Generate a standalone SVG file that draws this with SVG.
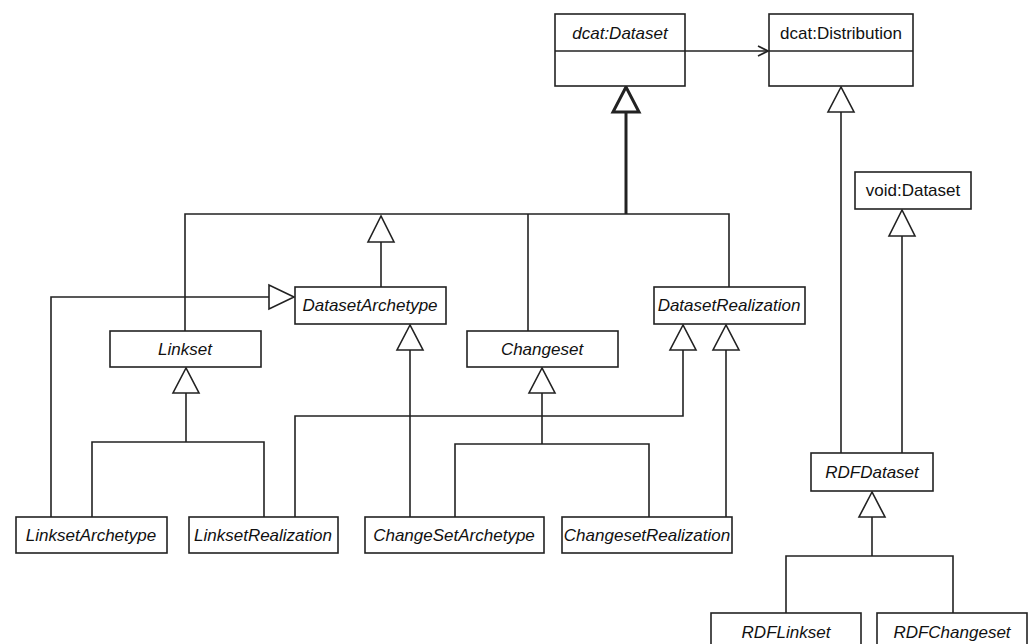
<svg xmlns="http://www.w3.org/2000/svg" width="1032" height="644" viewBox="0 0 1032 644">
  <style>
    .box { fill: #ffffff; stroke: #222222; stroke-width: 1.6; }
    .lbl { font-family: "Liberation Sans", Arial, sans-serif; font-size: 17px; fill: #111111; text-anchor: middle; }
    .it { font-style: italic; }
    .ln { fill: none; stroke: #222222; stroke-width: 1.6; }
    .thick { fill: none; stroke: #222222; stroke-width: 3; }
    .tri { fill: #ffffff; stroke: #222222; stroke-width: 1.6; stroke-linejoin: miter; }
    .tri-thick { fill: #ffffff; stroke: #222222; stroke-width: 3; stroke-linejoin: miter; }
  </style>
  <defs>
    <marker id="open" viewBox="0 0 12 12" refX="11" refY="6" markerWidth="12" markerHeight="12" markerUnits="userSpaceOnUse" orient="auto">
      <path d="M1,1 L11,6 L1,11" fill="none" stroke="#222222" stroke-width="1.6"/>
    </marker>
  </defs>
  <rect width="1032" height="644" fill="#ffffff"/>

  <!-- connectors -->
  <g id="connectors">
    <!-- association dcat:Dataset -> dcat:Distribution -->
    <line class="ln" x1="685" y1="51" x2="768" y2="51" marker-end="url(#open)"/>
    <!-- generalization tree to dcat:Dataset -->
    <line class="thick" x1="626" y1="112" x2="626" y2="214"/>
    <polygon class="tri-thick" points="626,87 613,112 639,112"/>
    <polyline class="ln" points="185,331 185,214 729,214 729,287"/>
    <line class="ln" x1="528" y1="214" x2="528" y2="331"/>
    <line class="ln" x1="381" y1="242" x2="381" y2="287"/>
    <polygon class="tri" points="381,216 368,242 394,242"/>
    <!-- dcat:Distribution <- RDFDataset -->
    <line class="ln" x1="841" y1="112" x2="841" y2="453"/>
    <polygon class="tri" points="841,87 828,112 854,112"/>
    <!-- void:Dataset <- RDFDataset -->
    <line class="ln" x1="902" y1="236" x2="902" y2="453"/>
    <polygon class="tri" points="902,210 889,236 915,236"/>
    <!-- LinksetArchetype -> DatasetArchetype -->
    <polyline class="ln" points="51,517 51,297 269,297"/>
    <polygon class="tri" points="294,297 269,285 269,309"/>
    <!-- Linkset subclasses -->
    <polyline class="ln" points="92,517 92,442 264,442 264,517"/>
    <line class="ln" x1="186" y1="393" x2="186" y2="442"/>
    <polygon class="tri" points="186,368 173,393 199,393"/>
    <!-- LinksetRealization -> DatasetRealization -->
    <polyline class="ln" points="295,517 295,416 683,416 683,350"/>
    <polygon class="tri" points="683,325 670,350 696,350"/>
    <!-- ChangeSetArchetype -> DatasetArchetype -->
    <line class="ln" x1="410" y1="350" x2="410" y2="517"/>
    <polygon class="tri" points="410,325 397,350 423,350"/>
    <!-- Changeset subclasses -->
    <polyline class="ln" points="455,517 455,444 649,444 649,517"/>
    <line class="ln" x1="542" y1="393" x2="542" y2="444"/>
    <polygon class="tri" points="542,368 529,393 555,393"/>
    <!-- ChangesetRealization -> DatasetRealization -->
    <line class="ln" x1="726" y1="350" x2="726" y2="517"/>
    <polygon class="tri" points="726,325 713,350 739,350"/>
    <!-- RDFDataset subclasses -->
    <polyline class="ln" points="786,613 786,556 953,556 953,613"/>
    <line class="ln" x1="872" y1="517" x2="872" y2="556"/>
    <polygon class="tri" points="872,492 859,517 885,517"/>
  </g>

  <!-- classes -->
  <g id="dcat-dataset">
    <rect class="box" x="555" y="14" width="130" height="72"/>
    <line class="ln" x1="555" y1="51" x2="685" y2="51"/>
    <text class="lbl it" x="620" y="39">dcat:Dataset</text>
  </g>
  <g id="dcat-distribution">
    <rect class="box" x="769" y="14" width="144" height="72"/>
    <line class="ln" x1="769" y1="51" x2="913" y2="51"/>
    <text class="lbl" x="841" y="39">dcat:Distribution</text>
  </g>
  <g id="void-dataset">
    <rect class="box" x="855" y="172" width="116" height="37"/>
    <text class="lbl" x="913" y="196">void:Dataset</text>
  </g>
  <g id="dataset-archetype">
    <rect class="box" x="295" y="287" width="151" height="37"/>
    <text class="lbl it" x="370" y="311">DatasetArchetype</text>
  </g>
  <g id="dataset-realization">
    <rect class="box" x="654" y="287" width="151" height="37"/>
    <text class="lbl it" x="729" y="311">DatasetRealization</text>
  </g>
  <g id="linkset">
    <rect class="box" x="110" y="331" width="151" height="36"/>
    <text class="lbl it" x="185" y="355">Linkset</text>
  </g>
  <g id="changeset">
    <rect class="box" x="467" y="331" width="151" height="36"/>
    <text class="lbl it" x="542" y="355">Changeset</text>
  </g>
  <g id="linkset-archetype">
    <rect class="box" x="16" y="517" width="151" height="36"/>
    <text class="lbl it" x="91" y="541">LinksetArchetype</text>
  </g>
  <g id="linkset-realization">
    <rect class="box" x="189" y="517" width="149" height="36"/>
    <text class="lbl it" x="263" y="541">LinksetRealization</text>
  </g>
  <g id="changeset-archetype">
    <rect class="box" x="365" y="517" width="179" height="36"/>
    <text class="lbl it" x="454" y="541">ChangeSetArchetype</text>
  </g>
  <g id="changeset-realization">
    <rect class="box" x="562" y="517" width="170" height="36"/>
    <text class="lbl it" x="647" y="541">ChangesetRealization</text>
  </g>
  <g id="rdf-dataset">
    <rect class="box" x="811" y="453" width="122" height="38"/>
    <text class="lbl it" x="872" y="478">RDFDataset</text>
  </g>
  <g id="rdf-linkset">
    <rect class="box" x="711" y="613" width="150" height="40"/>
    <text class="lbl it" x="786" y="638">RDFLinkset</text>
  </g>
  <g id="rdf-changeset">
    <rect class="box" x="877" y="613" width="150" height="40"/>
    <text class="lbl it" x="952" y="638">RDFChangeset</text>
  </g>
</svg>
